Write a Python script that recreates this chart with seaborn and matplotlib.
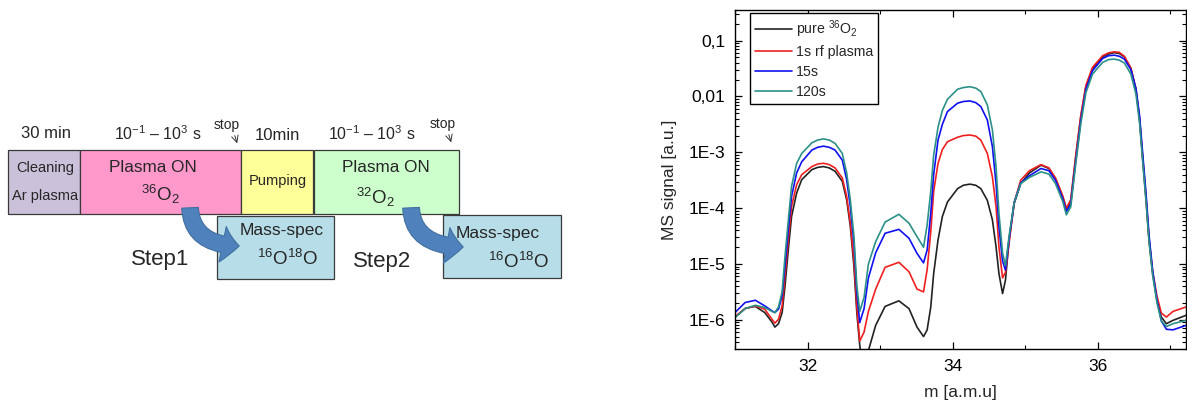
import numpy as np
import pandas as pd
import matplotlib
matplotlib.use("Agg")
import matplotlib.pyplot as plt
from matplotlib.patches import Rectangle, FancyArrowPatch
from matplotlib.ticker import FixedLocator, FixedFormatter, LogLocator, NullFormatter, MultipleLocator
import seaborn as sns

# -------------------------
# DATA (log10 of MS signal)
# -------------------------
mass = [31.00, 31.14, 31.28, 31.41, 31.51, 31.55, 31.60, 31.65, 31.69, 31.74,
        31.78, 31.85, 31.92, 32.06, 32.14, 32.22, 32.30, 32.38, 32.48, 32.54,
        32.59, 32.64, 32.68, 32.72, 32.78, 32.84, 32.94, 33.07, 33.26, 33.40,
        33.51, 33.60, 33.65, 33.70, 33.74, 33.80, 33.86, 33.93, 34.07, 34.15,
        34.24, 34.32, 34.39, 34.48, 34.55, 34.60, 34.64, 34.69, 34.73, 34.78,
        34.85, 34.94, 35.06, 35.22, 35.33, 35.42, 35.52, 35.57, 35.63, 35.70,
        35.77, 35.84, 35.93, 36.07, 36.15, 36.23, 36.30, 36.37, 36.46, 36.53,
        36.58, 36.62, 36.67, 36.71, 36.76, 36.82, 36.88, 36.95, 37.04, 37.22]

log_pure = [-5.955, -5.795, -5.76, -5.87, -6.04, -6.13, -6.07, -5.87, -5.39, -4.68,
            -4.15, -3.73, -3.49, -3.31, -3.27, -3.255, -3.28, -3.34, -3.52, -3.85,
            -4.32, -5.04, -5.87, -6.45, -7.0, -6.55, -6.10, -5.76, -5.66, -5.80,
            -6.13, -6.30, -6.18, -5.77, -5.17, -4.57, -4.15, -3.89, -3.65, -3.59,
            -3.57, -3.59, -3.65, -3.86, -4.21, -4.69, -5.17, -5.53, -5.29, -4.57,
            -3.92, -3.56, -3.37, -3.23, -3.29, -3.47, -3.80, -4.02, -3.89, -3.08,
            -2.36, -1.82, -1.50, -1.29, -1.24, -1.215, -1.23, -1.29, -1.50, -1.88,
            -2.42, -3.08, -3.86, -4.57, -5.17, -5.65, -5.95, -6.07, -6.01, -5.92]

log_1s = [-5.94, -5.80, -5.75, -5.81, -5.99, -6.06, -5.99, -5.75, -5.21, -4.50,
          -3.97, -3.58, -3.40, -3.255, -3.21, -3.196, -3.22, -3.28, -3.46, -3.79,
          -4.26, -4.92, -5.75, -6.38, -6.22, -5.85, -5.45, -5.06, -4.97, -5.14,
          -5.45, -5.50, -5.10, -4.42, -3.70, -3.20, -2.95, -2.81, -2.73, -2.70,
          -2.69, -2.71, -2.78, -3.02, -3.44, -3.97, -4.69, -5.25, -5.15, -4.63,
          -3.90, -3.50, -3.33, -3.22, -3.28, -3.46, -3.78, -4.00, -3.85, -3.05,
          -2.33, -1.80, -1.48, -1.27, -1.22, -1.20, -1.21, -1.28, -1.49, -1.87,
          -2.40, -3.05, -3.84, -4.55, -5.13, -5.58, -5.88, -5.95, -5.85, -5.77]

log_15s = [-5.87, -5.69, -5.65, -5.75, -5.84, -5.87, -5.81, -5.57, -5.04, -4.32,
           -3.79, -3.37, -3.17, -2.96, -2.91, -2.89, -2.91, -2.96, -3.14, -3.49,
           -3.97, -4.62, -5.51, -6.05, -5.80, -5.25, -4.80, -4.45, -4.38, -4.54,
           -4.81, -4.98, -4.75, -4.09, -3.40, -2.78, -2.50, -2.27, -2.12, -2.09,
           -2.08, -2.11, -2.18, -2.42, -2.90, -3.56, -4.33, -4.95, -5.11, -4.55,
           -3.90, -3.55, -3.42, -3.29, -3.33, -3.50, -3.83, -4.06, -3.93, -3.15,
           -2.42, -1.87, -1.54, -1.32, -1.27, -1.26, -1.28, -1.33, -1.52, -1.86,
           -2.35, -2.98, -3.76, -4.48, -5.12, -5.65, -6.02, -6.17, -6.18, -6.10]

log_120s = [-5.96, -5.80, -5.74, -5.78, -5.85, -5.87, -5.77, -5.50, -4.86, -4.15,
            -3.61, -3.20, -3.02, -2.83, -2.78, -2.76, -2.78, -2.84, -3.02, -3.37,
            -3.85, -4.50, -5.39, -5.85, -5.60, -5.00, -4.60, -4.25, -4.11, -4.27,
            -4.51, -4.70, -4.30, -3.70, -3.05, -2.55, -2.25, -2.05, -1.87, -1.84,
            -1.825, -1.85, -1.91, -2.15, -2.60, -3.26, -4.09, -4.80, -5.03, -4.50,
            -3.90, -3.56, -3.45, -3.35, -3.39, -3.56, -3.88, -4.12, -3.98, -3.20,
            -2.48, -1.93, -1.60, -1.39, -1.34, -1.33, -1.35, -1.40, -1.60, -1.96,
            -2.48, -3.12, -3.90, -4.60, -5.20, -5.70, -6.02, -6.12, -6.07, -6.01]

series_labels = ["pure $^{36}$O$_2$", "1s rf plasma", "15s", "120s"]
series_colors = ["#222222", "#f02020", "#1010f0", "#2a9088"]

ytick_vals = [1e-1, 1e-2, 1e-3, 1e-4, 1e-5, 1e-6]
ytick_text = ["0,1", "0,01", "1E-3", "1E-4", "1E-5", "1E-6"]

# -------------------------
# STYLE
# -------------------------
sns.set_theme(style="ticks")
plt.rcParams["font.family"] = ["Liberation Sans", "DejaVu Sans"]
plt.rcParams["mathtext.fontset"] = "custom"
plt.rcParams["mathtext.rm"] = "Liberation Sans"
plt.rcParams["mathtext.it"] = "Liberation Sans:italic"
plt.rcParams["mathtext.bf"] = "Liberation Sans:bold"

fig = plt.figure(figsize=(11.87, 4.12), dpi=100)

# -------------------------
# LEFT: PROCESS DIAGRAM (pixel coordinates)
# -------------------------
dax = fig.add_axes([0, 0, 600 / 1187, 1])
dax.set_xlim(0, 600)
dax.set_ylim(412, 0)
dax.axis("off")

edge = "#3a3a3a"
boxes = [
    (8, 150, 80, 214, "#ccc1da"),
    (80, 150, 241, 214, "#ff99cc"),
    (241, 150, 313, 214, "#ffff99"),
    (314, 150, 459, 214, "#ccffcc"),
    (217, 216, 334, 279, "#b7dde8"),
    (443, 215, 561, 278, "#b7dde8"),
]
for x0, y0, x1, y1, c in boxes:
    dax.add_patch(Rectangle((x0, y0), x1 - x0, y1 - y0, facecolor=c,
                            edgecolor=edge, lw=0.9))

dax.text(45, 168, "Cleaning", ha="center", va="center", fontsize=10.5)
dax.text(45, 196, "Ar plasma", ha="center", va="center", fontsize=10.5)
dax.text(153, 167, "Plasma ON", ha="center", va="center", fontsize=12.3)
dax.text(160, 194, "$^{36}$O$_2$", ha="center", va="center", fontsize=13.5)
dax.text(278, 181, "Pumping", ha="center", va="center", fontsize=10.5)
dax.text(386, 167, "Plasma ON", ha="center", va="center", fontsize=12.3)
dax.text(375, 197, "$^{32}$O$_2$", ha="center", va="center", fontsize=13.5)
dax.text(282, 230, "Mass-spec", ha="center", va="center", fontsize=12.5)
dax.text(287, 259, "$^{16}$O$^{18}$O", ha="center", va="center", fontsize=13.5)
dax.text(498, 233, "Mass-spec", ha="center", va="center", fontsize=12.5)
dax.text(518, 262, "$^{16}$O$^{18}$O", ha="center", va="center", fontsize=13.5)
dax.text(160, 259, "Step1", ha="center", va="center", fontsize=16)
dax.text(382, 261, "Step2", ha="center", va="center", fontsize=16)

dax.text(46, 134, "30 min", ha="center", va="center", fontsize=12)
dax.text(158, 134, "10$^{-1}$ – 10$^{3}$ s", ha="center", va="center", fontsize=11.5)
dax.text(277, 135, "10min", ha="center", va="center", fontsize=12)
dax.text(372, 134, "10$^{-1}$ – 10$^{3}$ s", ha="center", va="center", fontsize=11.5)
dax.text(227, 125, "stop", ha="center", va="center", fontsize=10)
dax.text(443, 124, "stop", ha="center", va="center", fontsize=10)
for sx, sy in [(234, 133), (448, 132)]:
    dax.annotate("", xy=(sx + 4, sy + 13), xytext=(sx, sy),
                 arrowprops=dict(arrowstyle="->", lw=0.7, color="#333333"))

# curved blue arrows
for ax0, ay0, bx, by in [(190, 205, 242, 246), (411, 205, 466, 247)]:
    arr = FancyArrowPatch((ax0, ay0), (bx, by),
                          connectionstyle="angle3,angleA=90,angleB=0",
                          arrowstyle="simple,tail_width=12,head_width=26,head_length=12",
                          mutation_scale=1, facecolor="#4f81bd", edgecolor="#41709f",
                          lw=0.8, zorder=5)
    dax.add_patch(arr)

# -------------------------
# RIGHT: MS SPECTRA
# -------------------------
ax = fig.add_axes([735 / 1187, 1 - 349 / 412, 451 / 1187, 339 / 412])

frames = []
for lab, vals in zip(series_labels, [log_pure, log_1s, log_15s, log_120s]):
    frames.append(pd.DataFrame({"mass": mass, "signal": 10 ** np.array(vals), "series": lab}))
df = pd.concat(frames, ignore_index=True)

sns.lineplot(data=df, x="mass", y="signal", hue="series", hue_order=series_labels,
             palette=series_colors, linewidth=1.2, ax=ax, sort=False)
for ln in ax.get_lines():
    ln.set_solid_joinstyle("round")

ax.set_yscale("log")
ax.set_xlim(31.0, 37.22)
ax.set_ylim(3.0e-7, 0.354)

ax.yaxis.set_major_locator(FixedLocator(ytick_vals))
ax.yaxis.set_major_formatter(FixedFormatter(ytick_text))
ax.yaxis.set_minor_locator(LogLocator(base=10, subs=np.arange(2, 10), numticks=20))
ax.yaxis.set_minor_formatter(NullFormatter())
ax.xaxis.set_major_locator(MultipleLocator(2))
ax.xaxis.set_minor_locator(MultipleLocator(1))

ax.tick_params(which="both", direction="in", top=True, right=True, colors="black",
               labelsize=12.5)
ax.tick_params(which="major", length=5, width=0.9, pad=7)
ax.tick_params(which="minor", length=3, width=0.8)
for s in ax.spines.values():
    s.set_color("black")
    s.set_linewidth(1.0)

ax.set_xlabel("m [a.m.u]", fontsize=12.5, labelpad=8)
ax.set_ylabel("MS signal [a.u.]", fontsize=12.5, labelpad=8)

leg = ax.legend(loc="upper left", bbox_to_anchor=(0.033, 0.991), borderaxespad=0,
                fontsize=10.2, frameon=True, fancybox=False, handlelength=2.6,
                handletextpad=0.3, borderpad=0.35, labelspacing=0.4)
leg.get_frame().set_edgecolor("black")
leg.get_frame().set_linewidth(1.0)
leg.get_frame().set_alpha(1)

fig.savefig("out.png", dpi=100)
